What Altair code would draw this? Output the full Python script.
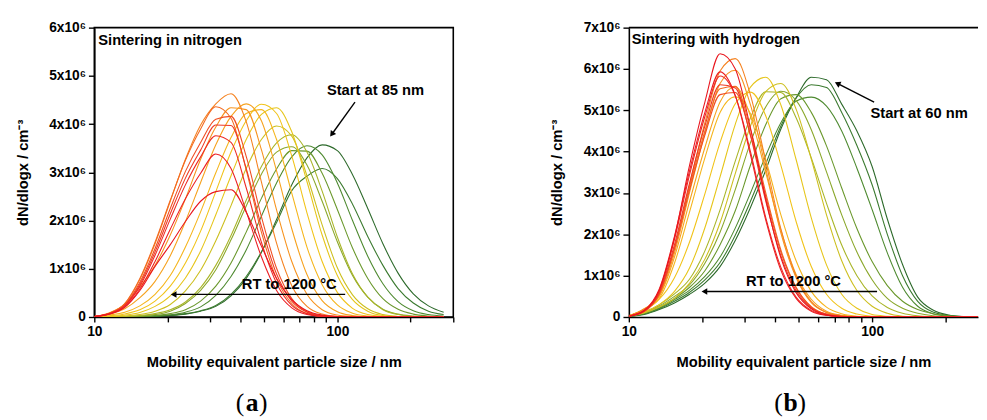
import altair as alt
import pandas as pd

# particle size grid (nm) shared by all curves
SIZES_NM = [10.0, 11.55, 13.34, 15.40, 17.78, 20.54, 23.71, 27.38, 31.62, 36.52, 42.17, 48.70,
            56.23, 64.94, 74.99, 86.60, 100.0, 115.5, 133.4, 154.0, 177.8, 205.4, 237.1, 273.8]

# ---- panel (a): sintering in nitrogen, dN/dlogx in 1e6 cm^-3 (start -> 1200 °C)
A01 = [0, 0, 0, 0.005, 0.01, 0.03, 0.06, 0.12, 0.22, 0.44, 0.80, 1.34, 2.02, 2.74, 3.30, 3.57, 3.45, 2.95, 2.25, 1.52, 0.91, 0.48, 0.23, 0.10]
A02 = [0, 0, 0.003, 0.008, 0.015, 0.035, 0.07, 0.13, 0.24, 0.47, 0.84, 1.35, 1.96, 2.62, 2.92, 3.08, 2.87, 2.34, 1.67, 1.07, 0.59, 0.29, 0.12, 0.05]
A03 = [0, 0, 0.004, 0.01, 0.02, 0.045, 0.10, 0.21, 0.45, 0.84, 1.39, 2.09, 2.78, 3.32, 3.55, 3.36, 2.78, 2.00, 1.26, 0.69, 0.32, 0.13, 0.05, 0.02]
A04 = [0, 0.002, 0.006, 0.012, 0.03, 0.07, 0.15, 0.33, 0.64, 1.12, 1.76, 2.46, 3.07, 3.45, 3.44, 2.98, 2.23, 1.43, 0.80, 0.38, 0.16, 0.06, 0.02, 0]
A05 = [0, 0.003, 0.008, 0.02, 0.05, 0.12, 0.28, 0.55, 0.98, 1.60, 2.30, 2.96, 3.42, 3.53, 3.15, 2.40, 1.56, 0.86, 0.41, 0.16, 0.06, 0.02, 0, 0]
A06 = [0.001, 0.004, 0.01, 0.03, 0.07, 0.15, 0.31, 0.61, 1.07, 1.69, 2.42, 3.12, 3.61, 3.78, 3.42, 2.61, 1.66, 0.89, 0.41, 0.15, 0.05, 0.01, 0, 0]
A07 = [0.002, 0.008, 0.02, 0.05, 0.12, 0.26, 0.54, 0.97, 1.58, 2.31, 3.08, 3.68, 3.96, 3.75, 2.93, 1.91, 1.02, 0.46, 0.17, 0.05, 0.01, 0, 0, 0]
A08 = [0.003, 0.014, 0.038, 0.094, 0.22, 0.44, 0.81, 1.37, 2.12, 2.93, 3.68, 4.20, 4.34, 3.84, 2.81, 1.70, 0.86, 0.36, 0.12, 0.03, 0.01, 0, 0, 0]
A09 = [0.005, 0.025, 0.064, 0.15, 0.33, 0.64, 1.12, 1.78, 2.60, 3.42, 4.07, 4.41, 4.22, 3.34, 2.16, 1.15, 0.51, 0.18, 0.05, 0.01, 0, 0, 0, 0]
A10 = [0.008, 0.042, 0.10, 0.23, 0.47, 0.86, 1.45, 2.18, 2.99, 3.72, 4.22, 4.30, 3.68, 2.57, 1.45, 0.67, 0.25, 0.08, 0.02, 0, 0, 0, 0, 0]
A11 = [0.01, 0.06, 0.17, 0.40, 0.74, 1.27, 1.98, 2.79, 3.57, 4.16, 4.42, 4.07, 3.03, 1.83, 0.88, 0.34, 0.11, 0.03, 0, 0, 0, 0, 0, 0]
A12 = [0.01, 0.09, 0.26, 0.62, 1.07, 1.70, 2.45, 3.27, 3.94, 4.34, 4.30, 3.47, 2.22, 1.15, 0.47, 0.15, 0.04, 0.01, 0, 0, 0, 0, 0, 0]
A13 = [0.01, 0.08, 0.27, 0.78, 1.52, 2.40, 3.27, 3.98, 4.42, 4.63, 4.05, 2.80, 1.53, 0.65, 0.22, 0.06, 0.01, 0, 0, 0, 0, 0, 0, 0]
A14 = [0.01, 0.08, 0.28, 0.80, 1.55, 2.42, 3.25, 3.90, 4.36, 4.12, 3.05, 1.76, 0.79, 0.28, 0.07, 0.01, 0, 0, 0, 0, 0, 0, 0, 0]
A15 = [0.01, 0.07, 0.25, 0.72, 1.42, 2.25, 3.02, 3.62, 4.10, 4.16, 3.33, 2.08, 1.01, 0.38, 0.11, 0.03, 0, 0, 0, 0, 0, 0, 0, 0]
A16 = [0.01, 0.07, 0.24, 0.68, 1.35, 2.14, 2.88, 3.46, 3.98, 3.97, 3.08, 1.88, 0.89, 0.33, 0.10, 0.02, 0, 0, 0, 0, 0, 0, 0, 0]
A17 = [0.01, 0.07, 0.23, 0.64, 1.28, 2.03, 2.74, 3.32, 3.76, 3.62, 2.68, 1.55, 0.70, 0.24, 0.07, 0.01, 0, 0, 0, 0, 0, 0, 0, 0]
A18 = [0.01, 0.06, 0.21, 0.58, 1.15, 1.82, 2.45, 2.98, 3.38, 3.08, 2.19, 1.25, 0.55, 0.19, 0.05, 0.01, 0, 0, 0, 0, 0, 0, 0, 0]
A19 = [0.01, 0.06, 0.20, 0.55, 1.05, 1.50, 1.98, 2.40, 2.60, 2.64, 2.17, 1.47, 0.80, 0.36, 0.13, 0.04, 0.01, 0, 0, 0, 0, 0, 0, 0]

# ---- panel (b): sintering with hydrogen
B01 = [0.01, 0.06, 0.18, 0.34, 0.55, 0.82, 1.22, 1.85, 2.65, 3.55, 4.55, 5.30, 5.80, 5.74, 5.15, 4.50, 3.64, 2.37, 1.27, 0.48, 0.17, 0.05, 0.01, 0]
B02 = [0.01, 0.07, 0.20, 0.38, 0.60, 0.90, 1.32, 1.98, 2.80, 3.70, 4.62, 5.30, 5.62, 5.55, 4.95, 4.15, 3.20, 2.00, 1.00, 0.38, 0.12, 0.04, 0.01, 0]
B03 = [0.02, 0.08, 0.22, 0.42, 0.65, 0.98, 1.45, 2.15, 3.00, 3.90, 4.70, 5.22, 5.32, 5.10, 4.50, 3.60, 2.60, 1.55, 0.72, 0.26, 0.08, 0.02, 0, 0]
B04 = [0.03, 0.10, 0.24, 0.45, 0.72, 1.12, 1.75, 2.57, 3.67, 4.65, 5.28, 5.38, 4.95, 4.14, 3.12, 2.14, 1.34, 0.76, 0.38, 0.18, 0.08, 0.03, 0.01, 0]
B05 = [0.03, 0.11, 0.27, 0.50, 0.78, 1.30, 2.05, 3.08, 4.22, 5.08, 5.46, 5.24, 4.53, 3.51, 2.47, 1.57, 0.90, 0.45, 0.21, 0.09, 0.03, 0.01, 0, 0]
B06 = [0.03, 0.12, 0.30, 0.56, 0.92, 1.60, 2.59, 3.77, 4.82, 5.45, 5.43, 4.82, 3.85, 2.75, 1.74, 1.00, 0.51, 0.23, 0.09, 0.03, 0.01, 0, 0, 0]
B07 = [0.03, 0.10, 0.24, 0.45, 0.82, 1.40, 2.28, 3.47, 4.62, 5.45, 5.65, 5.03, 3.82, 2.47, 1.36, 0.64, 0.26, 0.09, 0.02, 0, 0, 0, 0, 0]
B08 = [0.03, 0.12, 0.30, 0.62, 1.19, 2.16, 3.39, 4.66, 5.56, 5.80, 5.13, 3.81, 2.40, 1.26, 0.55, 0.21, 0.06, 0.02, 0, 0, 0, 0, 0, 0]
B09 = [0.03, 0.17, 0.43, 0.95, 1.82, 2.98, 4.22, 5.16, 5.44, 4.87, 3.67, 2.31, 1.22, 0.55, 0.21, 0.07, 0.02, 0, 0, 0, 0, 0, 0, 0]
B10 = [0.03, 0.18, 0.45, 1.30, 2.55, 3.85, 4.95, 5.33, 4.92, 3.81, 2.47, 1.36, 0.62, 0.24, 0.08, 0.02, 0, 0, 0, 0, 0, 0, 0, 0]
B11 = [0.03, 0.19, 0.50, 1.45, 2.80, 4.10, 5.20, 5.57, 4.86, 3.50, 2.10, 1.03, 0.43, 0.14, 0.04, 0.01, 0, 0, 0, 0, 0, 0, 0, 0]
B12 = [0.03, 0.20, 0.52, 1.55, 3.02, 4.45, 5.65, 5.97, 5.13, 3.60, 2.03, 0.95, 0.35, 0.11, 0.03, 0, 0, 0, 0, 0, 0, 0, 0, 0]
B13 = [0.03, 0.18, 0.55, 1.65, 3.20, 4.70, 5.95, 6.25, 5.37, 3.77, 2.13, 0.99, 0.37, 0.11, 0.03, 0, 0, 0, 0, 0, 0, 0, 0, 0]
B14 = [0.02, 0.13, 0.57, 1.68, 3.15, 4.50, 5.52, 5.58, 4.54, 3.01, 1.62, 0.72, 0.25, 0.07, 0.02, 0, 0, 0, 0, 0, 0, 0, 0, 0]
B15 = [0.02, 0.13, 0.56, 1.65, 3.08, 4.40, 5.38, 5.43, 4.41, 2.93, 1.57, 0.70, 0.24, 0.07, 0.01, 0, 0, 0, 0, 0, 0, 0, 0, 0]
B16 = [0.02, 0.14, 0.60, 1.75, 3.25, 4.62, 5.62, 5.54, 4.39, 2.81, 1.48, 0.64, 0.22, 0.06, 0.01, 0, 0, 0, 0, 0, 0, 0, 0, 0]
B17 = [0.02, 0.15, 0.64, 1.88, 3.45, 4.85, 5.83, 5.35, 4.00, 2.41, 1.20, 0.48, 0.16, 0.04, 0.01, 0, 0, 0, 0, 0, 0, 0, 0, 0]
B18 = [0.02, 0.16, 0.68, 1.95, 3.55, 4.95, 5.93, 5.36, 3.92, 2.35, 1.13, 0.45, 0.14, 0.04, 0.01, 0, 0, 0, 0, 0, 0, 0, 0, 0]
B19 = [0.02, 0.15, 0.65, 1.92, 3.68, 5.20, 6.37, 6.00, 4.57, 2.86, 1.43, 0.59, 0.20, 0.05, 0.01, 0, 0, 0, 0, 0, 0, 0, 0, 0]

CURVES_A = [A01, A02, A03, A04, A05, A06, A07, A08, A09, A10, A11, A12, A13, A14, A15, A16, A17, A18, A19]
CURVES_B = [B01, B02, B03, B04, B05, B06, B07, B08, B09, B10, B11, B12, B13, B14, B15, B16, B17, B18, B19]

COLORS_A = ["#2d6a2b", "#3b7a2f", "#4e8a30", "#6a982c", "#8aa72a", "#a9b528", "#cdbf1f", "#e6c51a",
            "#f1c319", "#f5b51c", "#f6a21e", "#f7931e", "#f58220", "#f36a22", "#f04e23", "#ee3a24",
            "#ed2a24", "#ec1f24", "#e9161e"]
COLORS_B = ["#2d6a2b", "#3b7a2f", "#4e8a30", "#6d9a2d", "#8aa52a", "#a2b027", "#bdb923", "#d9c11c",
            "#ecc418", "#f3be18", "#f5b11c", "#f69f1e", "#f6891f", "#f36b22", "#f15322", "#ef3d24",
            "#ee2c24", "#ec2024", "#ea161f"]

X_TICKS_A = [10, 20, 30, 40, 50, 60, 70, 80, 90, 100, 200, 300]
X_TICKS_B = [10, 20, 30, 40, 50, 60, 70, 80, 90, 100, 200]

# annotations: (text, x in nm, y in 1e6)
TITLE_A = ("Sintering in nitrogen", 10.38, 5.735)
START_A = ("Start at 85 nm", 143.6, 4.698)
START_ARROW_A_X = [118.2, 95.4]
START_ARROW_A_Y = [4.454, 3.805]
RT_A = ("RT to 1200 °C", 63.4, 0.69)
RT_ARROW_A_X = [107.7, 21.4]
RT_ARROW_A_Y = [0.468, 0.468]

TITLE_B = ("Sintering with hydrogen", 10.28, 6.716)
START_B = ("Start at 60 nm", 156.0, 4.936)
START_ARROW_B_X = [101.9, 72.6]
START_ARROW_B_Y = [5.197, 5.64]
RT_B = ("RT to 1200 °C", 47.5, 0.878)
RT_ARROW_B_X = [104.8, 20.63]
RT_ARROW_B_Y = [0.617, 0.617]

FONT = "Liberation Sans"
SERIF = "Liberation Serif"
PLOT_H = 295


def curves_table(curves, prefix):
    rows = []
    for i, vals in enumerate(curves):
        for s, v in zip(SIZES_NM, vals):
            rows.append({"curve": f"{prefix}{i + 1:02d}", "size": s, "dn": v})
    return pd.DataFrame(rows)


def make_panel(curves, prefix, colors, ymax, xmax, width, xticks, title, start, start_ax, start_ay,
               start_angle, rt, rt_ax, rt_ay, letter, letter_x, framed):
    df = curves_table(curves, prefix)
    names = [f"{prefix}{i + 1:02d}" for i in range(len(curves))]
    xscale = alt.Scale(type="log", domain=[10, xmax], nice=False)
    yscale = alt.Scale(domain=[0, ymax], nice=False)
    xaxis = alt.Axis(
        values=xticks,
        labelExpr="(datum.value == 10 || datum.value == 100) ? format(datum.value, 'd') : ''",
        tickSize=5, labelPadding=3, labelFlush=False,
        title="Mobility equivalent particle size / nm", titlePadding=16,
    )
    yaxis = alt.Axis(
        values=[i * 0.5 for i in range(2 * ymax + 1)],
        labelExpr="datum.value == 0 ? '0' : (datum.value % 1 == 0 ? format(datum.value, 'd') + 'x10⁶' : '')",
        tickSize={"condition": {"test": "datum.value % 1 == 0", "value": 6}, "value": 3},
        labelPadding=3, title="dN/dlogx / cm⁻³", titlePadding=19,
    )
    X = alt.X("size:Q", scale=xscale, axis=xaxis)
    Y = alt.Y("dn:Q", scale=yscale, axis=yaxis)
    Xs = alt.X("size:Q", scale=xscale)
    Ys = alt.Y("dn:Q", scale=yscale)

    lines = alt.Chart(df).mark_line(interpolate="monotone", strokeWidth=1.1, clip=True).encode(
        x=X, y=Y,
        color=alt.Color("curve:N", scale=alt.Scale(domain=names, range=colors), legend=None),
    )

    def text_layer(item, align):
        t = pd.DataFrame({"label": [item[0]], "size": [item[1]], "dn": [item[2]]})
        return alt.Chart(t).mark_text(align=align, baseline="middle", font=FONT, fontSize=15,
                                      fontWeight="bold", color="black").encode(x=Xs, y=Ys, text="label:N")

    def arrow_layers(ax, ay, angle):
        a = pd.DataFrame({"size": ax, "dn": ay, "o": [0, 1]})
        line = alt.Chart(a).mark_line(color="black", strokeWidth=1.4).encode(x=Xs, y=Ys, order="o:Q")
        h = pd.DataFrame({"size": [ax[-1]], "dn": [ay[-1]]})
        head = alt.Chart(h).mark_point(shape="triangle", filled=True, size=45, color="black",
                                       opacity=1, angle=angle).encode(x=Xs, y=Ys)
        return [line, head]

    one = pd.DataFrame({"k": [0]})
    lx = letter_x
    ly = 391
    letter_layers = [
        alt.Chart(one).mark_text(align="right", baseline="alphabetic", font=SERIF, fontSize=26,
                                 color="black").encode(x=alt.value(lx - 8), y=alt.value(ly), text=alt.value("(")),
        alt.Chart(one).mark_text(align="center", baseline="alphabetic", font=SERIF, fontSize=26,
                                 fontWeight="bold", color="black").encode(x=alt.value(lx), y=alt.value(ly),
                                                                         text=alt.value(letter)),
        alt.Chart(one).mark_text(align="left", baseline="alphabetic", font=SERIF, fontSize=26,
                                 color="black").encode(x=alt.value(lx + 7), y=alt.value(ly), text=alt.value(")")),
    ]

    layers = [lines, text_layer(title, "left"), text_layer(start, "center"), text_layer(rt, "center")]
    layers += arrow_layers(start_ax, start_ay, start_angle)
    layers += arrow_layers(rt_ax, rt_ay, 270)
    layers += letter_layers
    if not framed:
        layers.append(alt.Chart(one).mark_rule(color="black", strokeWidth=1.6).encode(
            x=alt.value(0), x2=alt.value(width), y=alt.value(0)))
    chart = alt.layer(*layers).properties(width=width, height=PLOT_H)
    if not framed:
        chart = chart.properties(view=alt.ViewBackground(stroke=None))
    return chart


panel_a = make_panel(CURVES_A, "a", COLORS_A, 6, 300, 366, X_TICKS_A, TITLE_A, START_A,
                     START_ARROW_A_X, START_ARROW_A_Y, 216, RT_A, RT_ARROW_A_X, RT_ARROW_A_Y,
                     "a", 161, True)
panel_b = make_panel(CURVES_B, "b", COLORS_B, 7, 272.5, 356, X_TICKS_B, TITLE_B, START_B,
                     START_ARROW_B_X, START_ARROW_B_Y, 297, RT_B, RT_ARROW_B_X, RT_ARROW_B_Y,
                     "b", 165, False)

chart = alt.hconcat(panel_a, panel_b, spacing=96).properties(
    padding={"left": 6, "top": 8, "right": 0, "bottom": 0}
).configure_view(
    stroke="black", strokeWidth=1.6
).configure_axis(
    labelFont=FONT, labelFontSize=14, labelFontWeight="bold", labelColor="black",
    titleFont=FONT, titleFontSize=15, titleFontWeight="bold", titleColor="black",
    domainColor="black", domainWidth=1.6, tickColor="black", tickWidth=1.4, grid=False,
)

chart.save("out.html", embed_options={"renderer": "svg", "actions": False})
